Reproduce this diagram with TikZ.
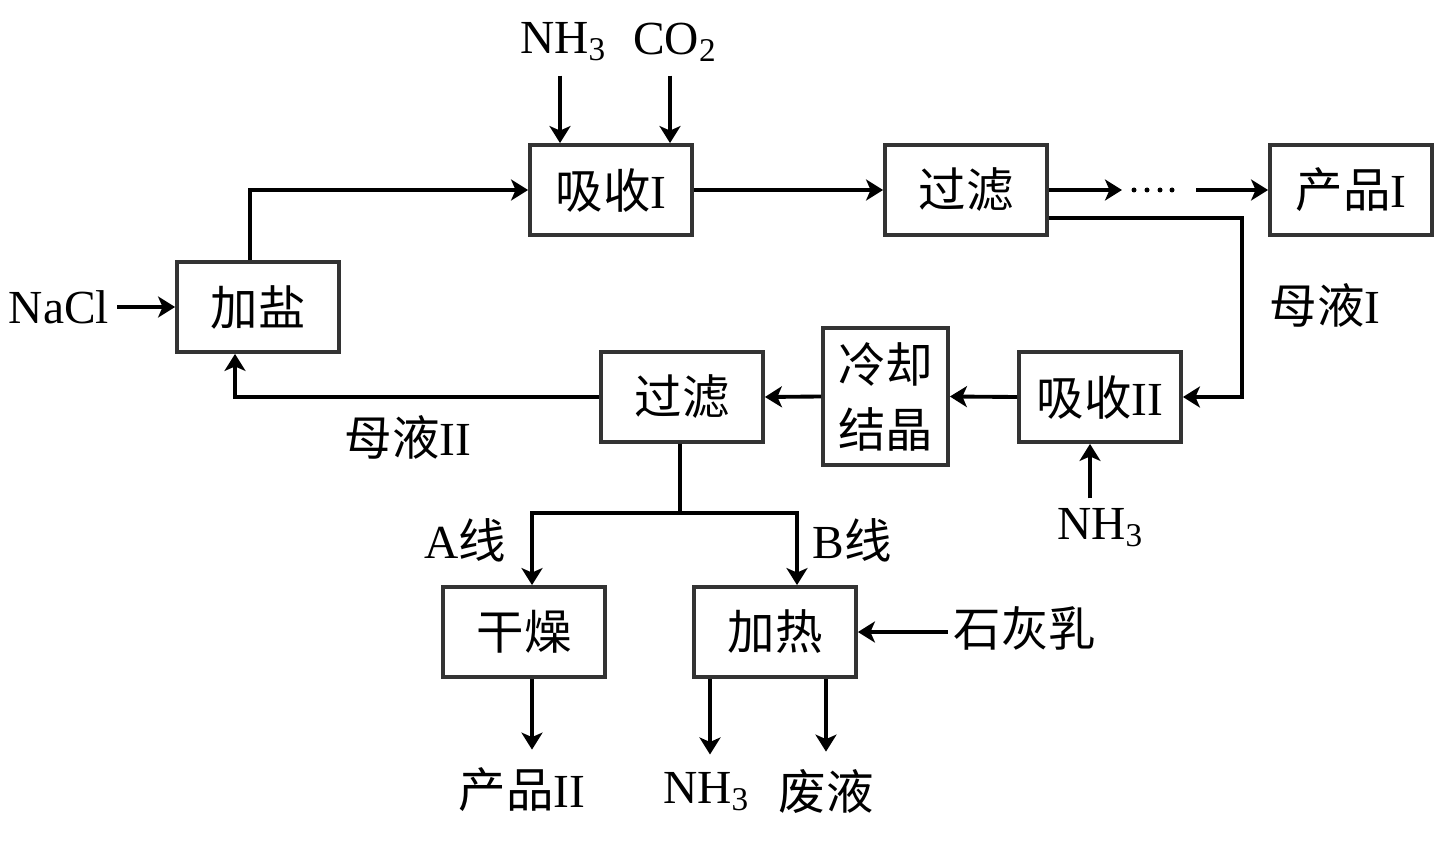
\documentclass[tikz,border=0pt]{standalone}
\usepackage{fontspec}
\setmainfont{Liberation Serif}
\newfontfamily\cjk{Noto Sans CJK SC}
\usetikzlibrary{arrows.meta,calc}
\begin{document}
\begin{tikzpicture}[x=0.02cm,y=-0.02cm,
  box/.style={draw=black!80,line width=2.2pt,minimum width=3.24cm,minimum height=1.8cm,inner sep=0pt},
  lbl/.style={inner sep=0pt,font=\fontsize{27}{37}\selectfont},
  conn/.style={line width=2.2pt,-{Stealth[length=0.34cm,width=0.42cm,inset=0.09cm]}},
  plain/.style={line width=2.2pt},
  every node/.style={font=\fontsize{27}{37}\selectfont}]
\useasboundingbox (0,0) rectangle (1434,841);
% boxes
\node[box] (xs1) at (611,190) {{\cjk 吸收}I};
\node[box] (gl1) at (966,190) {{\cjk 过滤}};
\node[box] (cp1) at (1351,190) {{\cjk 产品}I};
\node[box] (jy) at (258,307) {{\cjk 加盐}};
\node[box] (gl2) at (682,397) {{\cjk 过滤}};
\node[box,minimum width=2.5cm,minimum height=2.74cm,align=center] (lq) at (885.5,396.5) {{\cjk 冷却}\\{\cjk 结晶}};
\node[box] (xs2) at (1100,397) {{\cjk 吸收}II};
\node[box] (gz) at (524,632) {{\cjk 干燥}};
\node[box] (jr) at (775,632) {{\cjk 加热}};
% labels
\node[lbl] (nacl) at (59,307) {NaCl};
\node[lbl] (nh3a) at (563,42) {NH\textsubscript{3}};
\node[lbl] (co2) at (675,42) {CO\textsubscript{2}};
\node[lbl] (my1) at (1325,305) {{\cjk 母液}I};
\node[lbl] (my2) at (408,437) {{\cjk 母液}II};
\node[lbl] (nh3b) at (1100,528) {NH\textsubscript{3}};
\node[lbl] (la) at (465,540) {A{\cjk 线}};
\node[lbl] (lb) at (852,540) {B{\cjk 线}};
\node[lbl] (shr) at (1025,628) {{\cjk 石灰乳}};
\node[lbl] (cp2) at (522,790) {{\cjk 产品}II};
\node[lbl] (nh3c) at (706,792) {NH\textsubscript{3}};
\node[lbl] (fy) at (826,792) {{\cjk 废液}};
% helper coordinates
\coordinate (d1) at (1122,190);
\coordinate (d2) at (1196,190);
\coordinate (j) at (680,513);
% dots
\foreach \xx in {1134,1147,1160,1172} \fill (\xx,190) circle (2.5);
% connectors
\draw[conn] (nacl.east) ++(8,0) -- (jy.west);
\draw[conn] ([xshift=-0.16cm]jy.north) |- (xs1.west);
\draw[conn] ($(nh3a.south)+(-3,14)$) -- (xs1.north -| 560,0);
\draw[conn] ($(co2.south)+(-5,14)$) -- (xs1.north -| 670,0);
\draw[conn] (xs1.east) -- (gl1.west);
\draw[conn] (gl1.east) -- (d1);
\draw[conn] (d2) -- (cp1.west);
\draw[conn] ([yshift=-0.56cm]gl1.east) -| ($(xs2.east)+(59,0)$) -- (xs2.east);
\draw[conn] (xs2.west) -- (lq.east);
\draw[conn] (lq.west) -- (gl2.east);
\draw[conn] (gl2.west) -| ([xshift=-0.46cm]jy.south);
\draw[conn] ($(nh3b.north)+(-10,-10)$) -- (xs2.south -| 1090,0);
\draw[plain] ([xshift=-0.04cm]gl2.south) -- (j);
\draw[conn] (j) -| (gz.north -| 532,0);
\draw[conn] (j) -| (jr.north -| 797,0);
\draw[conn] ($(shr.west)+(-6,4)$) -- (jr.east);
\draw[conn] (gz.south -| 532,0) -- ($(cp2.north -| 532,0)+(0,-18)$);
\draw[conn] (jr.south -| 710,0) -- ($(nh3c.north -| 710,0)+(0,-18)$);
\draw[conn] (jr.south -| 826,0) -- ($(fy.north -| 826,0)+(0,-18)$);
\end{tikzpicture}
\end{document}
